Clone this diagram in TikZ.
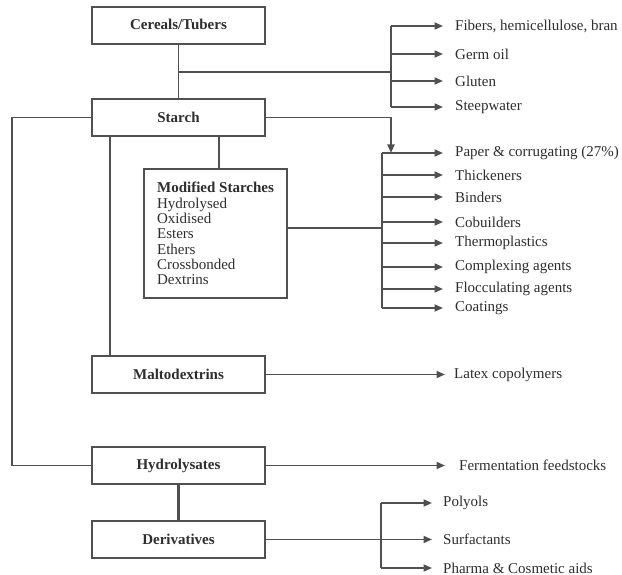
\documentclass[tikz,border=0pt]{standalone}
\usepackage{fontspec}
\setmainfont{Liberation Serif}
\usetikzlibrary{arrows.meta}
\definecolor{ln}{HTML}{505050}
\definecolor{tx}{HTML}{2E2E2E}
\begin{document}
\begin{tikzpicture}[x=1pt,y=-1pt,
  box/.style={draw=ln, line width=2pt, minimum width=173pt, minimum height=37pt, inner sep=0pt,
    font=\fontsize{15}{15.3}\selectfont\bfseries, text=tx},
  lbl/.style={anchor=west, inner xsep=12pt, inner ysep=0pt, font=\fontsize{15}{16}\selectfont, text=tx},
  con/.style={draw=ln, line width=1.8pt},
  arr/.style={con, -{Triangle[length=8.5pt,width=7pt]}},
]
\fill[white] (0,0) rectangle (622,575);
\useasboundingbox (0,0) rectangle (622,575);

% boxes
\node[box] (cer) at (178.5,26) {\raisebox{3pt}{Cereals/Tubers}};
\node[box] (sta) at (178.5,117.5) {Starch};
\node[box, minimum width=143pt, minimum height=129pt, align=left,
  font=\fontsize{15}{15.3}\selectfont] (mod) at (215.5,233.5)
  {\textbf{Modified Starches}\\Hydrolysed\\Oxidised\\Esters\\Ethers\\Crossbonded\\Dextrins};
\node[box] (mal) at (178.5,374.5) {Maltodextrins};
\node[box] (hyd) at (178.5,465.5) {Hydrolysates};
\node[box] (der) at (178.5,539.5) {Derivatives};

% labels
\node[lbl] (fib) at (443,26) {Fibers, hemicellulose, bran};
\node[lbl] (ger) at (443,54) {Germ oil};
\node[lbl] (glu) at (443,81) {Gluten};
\node[lbl] (ste) at (443,107) {Steepwater};
\node[lbl] (pap) at (443,153) {Paper \& corrugating (27\%)};
\node[lbl] (thi) at (443,175) {Thickeners};
\node[lbl] (bin) at (443,197) {Binders};
\node[lbl] (cob) at (443,222) {Cobuilders};
\node[lbl] (the) at (443,243) {Thermoplastics};
\node[lbl] (com) at (443,267) {Complexing agents};
\node[lbl] (flo) at (443,289) {Flocculating agents};
\node[lbl] (coa) at (443,308) {Coatings};
\node[lbl, inner xsep=9pt] (lat) at (445,374.5) {Latex copolymers};
\node[lbl, inner xsep=14pt] (fer) at (445,465.5) {Fermentation feedstocks};
\node[lbl, inner xsep=11pt] (pol) at (432,503) {Polyols};
\node[lbl, inner xsep=11pt] (sur) at (432,539.5) {Surfactants};
\node[lbl, inner xsep=11pt] (pha) at (432,568) {Pharma \& Cosmetic aids};

% coordinates
\coordinate (j1) at (178.5,72);
\coordinate (b1) at (391,72);
\coordinate (b1t) at (391,26);
\coordinate (b1b) at (391,107);
\coordinate (c2) at (391,117.5);
\coordinate (b2t) at (382,153);
\coordinate (b2b) at (382,308);
\coordinate (mj) at (382,228);
\coordinate (L1) at (12,117.5);
\coordinate (b3t) at (381,503);
\coordinate (b3b) at (381,568);

% connectors: cereals
\draw[con] (cer) -- (sta);
\draw[con] (j1) -- (b1);
\draw[con] (b1t) -- (b1b);
\draw[arr] (b1t) -- (fib.west);
\draw[arr] (b1 |- ger.west) -- (ger.west);
\draw[arr] (b1 |- glu.west) -- (glu.west);
\draw[arr] (b1b) -- (ste.west);

% starch to applications
\draw[arr] (sta.east) -- (c2) -- (c2 |- b2t);
\draw[con] (b2t) -- (b2b);
\draw[arr] (b2t) -- (pap.west);
\draw[arr] (b2t |- thi.west) -- (thi.west);
\draw[arr] (b2t |- bin.west) -- (bin.west);
\draw[arr] (b2t |- cob.west) -- (cob.west);
\draw[arr] (b2t |- the.west) -- (the.west);
\draw[arr] (b2t |- com.west) -- (com.west);
\draw[arr] (b2t |- flo.west) -- (flo.west);
\draw[arr] (b2b) -- (coa.west);
\draw[con] (mod.east |- mj) -- (mj);

% starch downward
\draw[con] ([xshift=40.5pt]sta.south) -- ([xshift=40.5pt]sta.south |- mod.north);
\draw[con, line width=2.4pt] ([xshift=-68.5pt]sta.south) -- ([xshift=-68.5pt]mal.north);
\draw[con] (sta.west) -- (L1) |- (hyd.west);

% lower boxes
\draw[arr] (mal.east) -- (lat.west);
\draw[arr] (hyd.east) -- (fer.west);
\draw[con, line width=2.4pt] (hyd) -- (der);
\draw[arr] (der.east) -- (sur.west);
\draw[con] (b3t) -- (b3b);
\draw[arr] (b3t) -- (pol.west);
\draw[arr] (b3b) -- (pha.west);
\end{tikzpicture}
\end{document}
